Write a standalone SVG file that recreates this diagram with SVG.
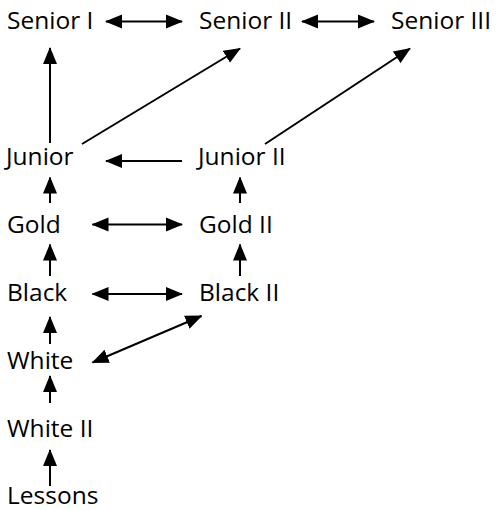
<svg xmlns="http://www.w3.org/2000/svg" width="501" height="510" viewBox="0 0 501 510">
<style>
text{font-family:"Open Sans","Noto Sans","DejaVu Sans",sans-serif;font-size:24.5px;fill:#000}
.c line{stroke:#000;stroke-width:2;fill:none}
.e{marker-end:url(#ah)}
.b{marker-end:url(#ah);marker-start:url(#ah)}
</style>
<defs>
<marker id="ah" markerUnits="userSpaceOnUse" markerWidth="17" markerHeight="15" refX="16" refY="7.5" orient="auto-start-reverse" viewBox="0 0 17 15">
<path d="M0,0.5 L17,7.5 L0,14.5 z" fill="#000"/>
</marker>
</defs>
<rect width="501" height="510" fill="#fff"/>
<g id="senior1"><text x="7" y="29">Senior I</text></g>
<g id="senior2"><text x="199" y="29">Senior II</text></g>
<g id="senior3"><text x="391" y="29">Senior III</text></g>
<g id="junior"><text x="6" y="165">Junior</text></g>
<g id="junior2"><text x="198" y="165">Junior II</text></g>
<g id="gold"><text x="7" y="233">Gold</text></g>
<g id="gold2"><text x="199" y="233">Gold II</text></g>
<g id="black"><text x="7" y="301">Black</text></g>
<g id="black2"><text x="199" y="301">Black II</text></g>
<g id="white"><text x="7" y="369">White</text></g>
<g id="white2"><text x="7" y="437">White II</text></g>
<g id="lessons"><text x="7" y="504">Lessons</text></g>
<g id="connectors" class="c">
<line class="b" x1="106" y1="21.5" x2="182" y2="21.5"/>
<line class="b" x1="302" y1="21.5" x2="374" y2="21.5"/>
<line class="e" x1="50" y1="143" x2="50" y2="48"/>
<line class="e" x1="82" y1="144" x2="240" y2="48.5"/>
<line class="e" x1="265" y1="144" x2="410" y2="48.5"/>
<line class="e" x1="182" y1="161" x2="106" y2="161"/>
<line class="e" x1="50" y1="203" x2="50" y2="177.5"/>
<line class="e" x1="240" y1="203" x2="240" y2="177.5"/>
<line class="b" x1="92.5" y1="224.5" x2="182" y2="224.5"/>
<line class="e" x1="50" y1="276" x2="50" y2="244.5"/>
<line class="e" x1="240" y1="276" x2="240" y2="244.5"/>
<line class="b" x1="92.5" y1="294" x2="182" y2="294"/>
<line class="e" x1="50" y1="344" x2="50" y2="317"/>
<line class="b" x1="92.5" y1="362.5" x2="201.5" y2="316"/>
<line class="e" x1="50" y1="403" x2="50" y2="376"/>
<line class="e" x1="50" y1="486" x2="50" y2="450"/>
</g>
</svg>
